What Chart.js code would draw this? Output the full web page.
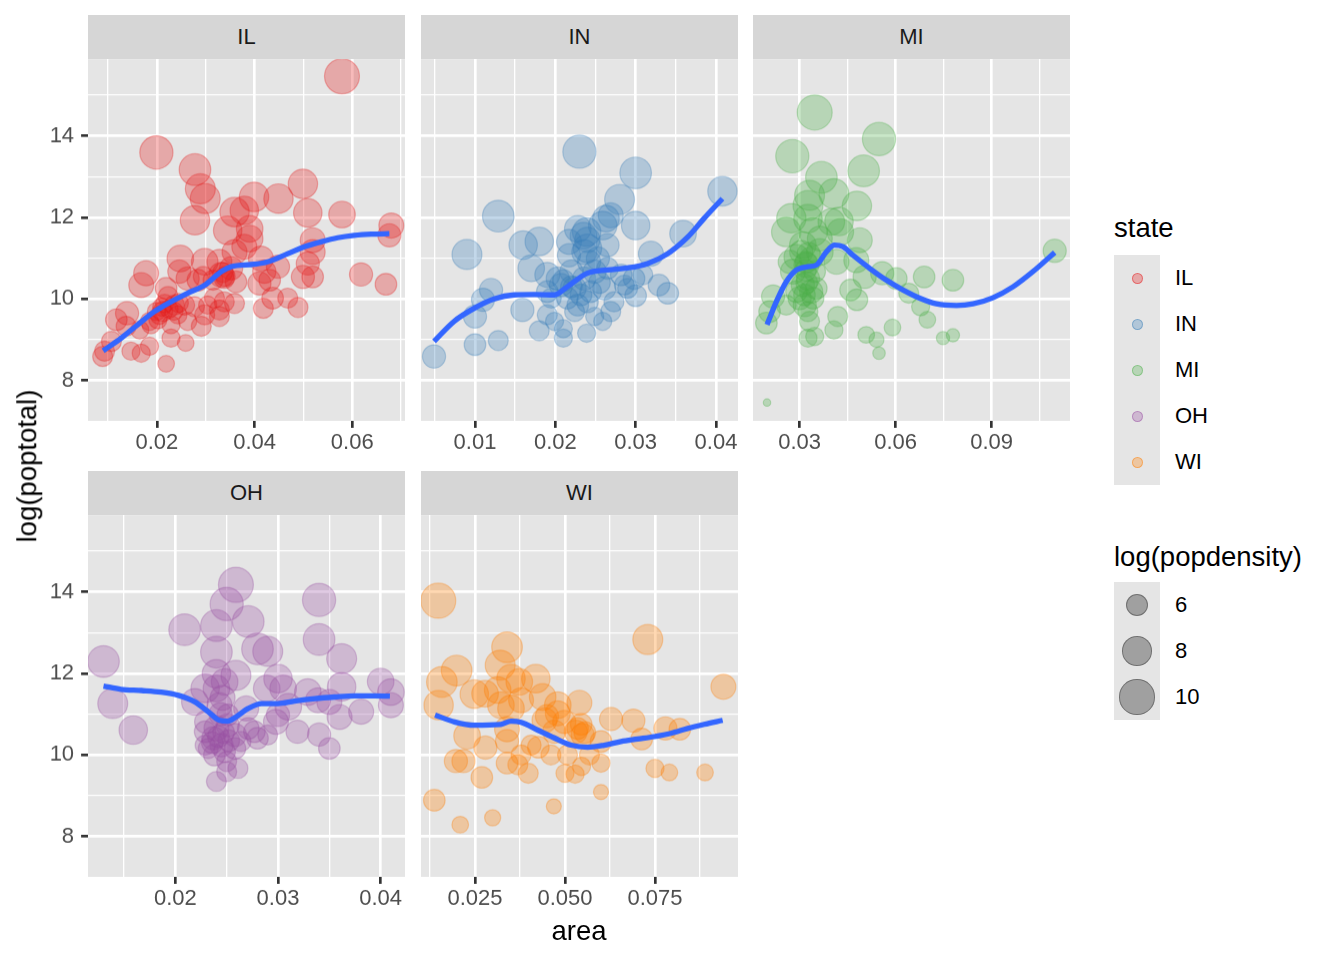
<!DOCTYPE html>
<html><head><meta charset="utf-8">
<script src="https://cdn.jsdelivr.net/npm/chart.js@4.4.1/dist/chart.umd.min.js"></script>
<style>
body{margin:0;background:#fff;width:1344px;height:960px;position:relative;overflow:hidden;font-family:"Liberation Sans",Arial,Helvetica,sans-serif;}
.strip{position:absolute;background:#D6D6D6;color:#1A1A1A;font-size:22px;display:flex;align-items:center;justify-content:center;}
canvas{position:absolute;}
.t{position:absolute;white-space:nowrap;line-height:1;}
.dot{position:absolute;border-radius:50%;box-sizing:border-box;}
</style></head><body>
<script>
// ---------- data: area, log(poptotal), log(popdensity) ----------
const IL_area=[0.0579,0.0199,0.0278,0.0289,0.0299,0.0278,0.0359,0.0379,0.0399,0.0449,0.0499,0.0509,0.0579,0.0680,0.0676,0.0345,0.0390,0.0390,0.0379,0.0359,0.0519,0.0519,0.0509,0.0499,0.0519,0.0448,0.0413,0.0420,0.0410,0.0431,0.0437,0.0418,0.0468,0.0489,0.0618,0.0669,0.0248,0.0298,0.0328,0.0332,0.0352,0.0362,0.0246,0.0263,0.0284,0.0178,0.0168,0.0219,0.0223,0.0236,0.0212,0.0202,0.0257,0.0277,0.0298,0.0291,0.0328,0.0328,0.0338,0.0359,0.0318,0.0139,0.0117,0.0137,0.0107,0.0089,0.0147,0.0168,0.0185,0.0165,0.0188,0.0229,0.0259,0.0219,0.0199,0.0216,0.0243,0.0263,0.0185,0.0229,0.0304,0.0338,0.0315,0.0093,0.0225,0.0235,0.0210,0.0245,0.0205,0.0335,0.0340,0.0295];
const IL_pop=[15.46,13.59,13.17,12.70,12.46,11.93,12.13,12.17,12.50,12.46,12.82,12.11,12.07,11.80,11.56,11.68,11.72,11.48,11.28,11.15,11.44,11.15,10.87,10.54,10.54,10.79,10.99,10.67,10.38,10.46,10.02,9.77,10.02,9.79,10.60,10.36,10.99,10.91,10.91,10.59,10.75,10.42,10.67,10.50,10.46,10.63,10.34,10.26,10.06,9.85,9.69,9.49,9.85,9.81,9.61,9.33,9.73,9.57,9.93,9.89,10.02,9.65,9.49,9.33,8.96,8.59,8.72,8.67,8.84,9.24,9.37,9.04,8.92,8.41,9.69,9.89,9.61,9.45,9.45,9.37,9.85,10.50,10.46,8.72,9.75,9.70,9.80,9.90,9.60,10.65,10.55,10.55];
const IL_dens=[10.4,9.7,9.1,8.5,8.5,8.3,8.3,8.0,8.3,8.3,8.3,8.0,7.4,6.9,6.4,8.0,7.4,7.4,6.9,6.9,6.9,6.9,6.4,6.4,6.0,6.4,6.9,6.4,6.4,6.0,6.0,5.6,5.6,5.6,6.4,6.0,7.4,7.4,6.9,6.9,6.4,6.0,6.4,6.4,6.0,6.9,6.9,6.0,5.6,5.6,5.6,5.2,5.6,5.6,5.6,5.6,5.6,5.6,5.6,5.6,5.6,6.4,6.0,5.6,5.6,5.6,5.2,5.2,5.2,5.2,5.2,5.2,4.9,4.9,5.2,5.2,5.2,5.2,5.2,5.2,5.2,5.6,5.6,5.6,5.2,5.2,5.2,5.4,5.2,5.6,5.6,5.6];

const IN_area=[0.0230,0.0300,0.0280,0.0408,0.0129,0.0090,0.0263,0.0259,0.0300,0.0239,0.0228,0.0217,0.0240,0.0359,0.0160,0.0180,0.0170,0.0190,0.0217,0.0319,0.0120,0.0110,0.0100,0.0159,0.0180,0.0100,0.0129,0.0049,0.0190,0.0199,0.0210,0.0210,0.0239,0.0259,0.0269,0.0190,0.0207,0.0215,0.0228,0.0224,0.0236,0.0249,0.0261,0.0265,0.0282,0.0286,0.0298,0.0300,0.0309,0.0329,0.0340,0.0236,0.0242,0.0253,0.0203,0.0240,0.0244,0.0224,0.0249,0.0273,0.0220,0.0265,0.0269,0.0195,0.0290,0.0220,0.0232,0.0210,0.0255,0.0235,0.0240];
const IN_pop=[13.61,13.09,12.44,12.64,12.03,11.09,11.97,11.80,11.80,11.64,11.72,11.40,11.24,11.60,11.32,11.41,10.75,10.59,11.07,11.11,10.22,9.98,9.57,9.73,9.22,8.88,8.98,8.59,9.61,9.45,9.27,9.04,9.16,9.45,9.69,10.18,10.34,10.02,9.85,10.26,10.50,10.67,10.26,10.75,10.59,10.34,10.50,10.08,10.59,10.34,10.14,11.15,10.91,10.99,10.50,9.93,10.18,9.69,9.57,9.93,10.67,11.32,12.05,10.02,10.26,10.30,10.10,10.45,10.40,11.55,11.45];
const IN_dens=[9.7,9.1,8.5,8.3,9.1,8.5,7.4,8.0,8.0,8.0,7.4,6.9,8.0,7.4,8.0,8.0,7.4,6.9,6.4,6.9,6.4,6.4,6.4,6.4,5.6,6.0,5.6,6.4,5.6,5.2,5.2,5.2,5.2,5.2,5.6,6.0,6.4,6.0,6.0,6.4,6.4,6.4,6.4,6.0,6.0,5.6,6.0,6.0,5.6,6.0,6.0,6.9,6.4,6.4,6.4,6.0,6.0,5.6,5.2,5.6,6.4,6.4,6.9,5.6,5.6,6.0,6.0,6.0,6.0,7.4,7.0];

const MI_area=[0.0347,0.0548,0.0277,0.0500,0.0368,0.0407,0.0331,0.0326,0.0479,0.0274,0.0258,0.0326,0.0423,0.0427,0.0488,0.0342,0.0310,0.0290,0.0363,0.0415,0.0477,0.0279,0.0321,0.0326,0.0336,0.0300,0.0316,0.0342,0.0503,0.0558,0.0602,0.0459,0.0479,0.0641,0.0689,0.0779,0.0678,0.0699,0.1097,0.0217,0.0206,0.0196,0.0419,0.0407,0.0331,0.0326,0.0347,0.0508,0.0540,0.0548,0.0590,0.0748,0.0779,0.0198,0.0310,0.0290,0.0269,0.0336,0.0363,0.0399,0.0258,0.0326,0.0347,0.0352,0.0305,0.0320,0.0318,0.0322,0.0315,0.0328];
const MI_pop=[14.57,13.92,13.50,13.14,12.98,12.58,12.54,12.29,12.28,11.98,11.64,11.97,11.90,11.64,11.44,11.64,11.32,11.03,11.15,10.91,10.95,10.67,10.83,10.50,10.18,10.02,9.85,10.02,10.54,10.63,10.50,10.22,9.98,10.14,10.54,10.46,9.81,9.49,11.18,10.06,9.69,9.41,9.57,9.24,9.45,9.04,9.08,9.12,9.00,8.67,9.30,9.04,9.11,7.46,10.34,10.18,10.91,10.99,11.48,11.89,9.85,9.69,10.67,10.26,11.15,10.90,10.70,10.40,10.10,11.10];
const MI_dens=[10.4,9.7,9.7,9.1,9.1,8.5,8.5,8.5,8.3,8.3,8.3,8.0,8.0,7.4,6.9,8.0,7.4,6.9,7.4,6.9,6.9,6.9,6.9,6.4,6.4,6.4,6.4,6.0,6.4,6.4,6.0,6.0,6.0,5.6,6.0,6.0,5.2,4.9,6.4,6.4,6.0,6.0,5.6,5.2,5.6,5.2,5.2,4.9,4.6,4.2,4.9,4.3,4.3,3.6,6.4,6.0,6.4,6.4,6.9,7.4,5.6,5.6,6.0,6.0,6.4,6.0,6.0,6.0,6.0,6.4];

const OH_area=[0.0259,0.0250,0.0340,0.0271,0.0209,0.0240,0.0340,0.0240,0.0280,0.0290,0.0130,0.0362,0.0259,0.0240,0.0229,0.0300,0.0289,0.0305,0.0362,0.0400,0.0410,0.0410,0.0139,0.0159,0.0219,0.0329,0.0339,0.0350,0.0360,0.0381,0.0310,0.0298,0.0319,0.0340,0.0350,0.0269,0.0240,0.0248,0.0243,0.0230,0.0240,0.0251,0.0258,0.0237,0.0245,0.0248,0.0258,0.0238,0.0250,0.0261,0.0250,0.0240,0.0271,0.0280,0.0290,0.0277,0.0229,0.0229,0.0264,0.0300,0.0251,0.0232,0.0242,0.0247,0.0236,0.0252,0.0244,0.0246];
const OH_pop=[14.17,13.70,13.80,13.27,13.07,13.17,12.83,12.52,12.60,12.54,12.29,12.36,11.95,11.99,11.63,11.87,11.63,11.63,11.67,11.80,11.54,11.22,11.26,10.61,11.30,11.54,11.34,11.30,10.93,11.06,11.18,10.81,10.57,10.50,10.16,11.14,11.63,11.79,11.22,10.81,10.65,10.73,10.49,10.41,10.24,10.08,10.16,10.00,9.84,9.67,9.59,9.35,10.65,10.41,10.49,10.57,10.57,10.24,10.33,10.98,10.98,10.16,10.45,10.55,10.30,10.35,11.00,11.40];
const OH_dens=[10.4,9.7,9.7,9.1,9.1,9.1,9.1,9.1,9.1,8.5,9.1,8.5,8.5,8.0,8.0,8.0,7.4,7.4,8.0,7.4,7.4,6.9,8.5,8.0,7.4,7.4,6.9,6.9,6.9,6.9,7.4,6.9,6.4,6.4,6.0,6.9,7.4,7.4,6.9,6.4,6.9,6.4,6.4,6.4,6.4,6.0,6.0,6.0,5.6,5.6,5.6,5.6,6.0,6.0,5.6,6.0,6.0,5.6,5.6,6.4,6.0,5.6,6.0,6.0,6.0,6.0,6.4,6.9];

const WI_area=[0.0148,0.0730,0.0339,0.0320,0.0199,0.0158,0.0149,0.0940,0.0350,0.0419,0.0373,0.0248,0.0278,0.0313,0.0322,0.0350,0.0378,0.0438,0.0480,0.0540,0.0480,0.0443,0.0498,0.0530,0.0549,0.0600,0.0628,0.0690,0.0713,0.0779,0.0819,0.0228,0.0279,0.0339,0.0339,0.0426,0.0461,0.0197,0.0218,0.0339,0.0369,0.0398,0.0500,0.0528,0.0546,0.0600,0.0750,0.0790,0.0889,0.0269,0.0600,0.0137,0.0209,0.0299,0.0469,0.0470,0.0507,0.0568,0.0378,0.0406,0.0535,0.0545,0.0555,0.0450];
const WI_pop=[13.78,12.83,12.64,12.20,12.07,11.79,11.22,11.67,11.87,11.87,11.79,11.49,11.50,11.59,11.22,11.14,11.34,11.42,11.22,11.28,11.02,10.85,10.81,10.57,10.49,10.33,10.88,10.84,10.39,10.65,10.63,10.47,10.18,10.63,10.34,10.19,10.00,9.85,9.85,9.80,9.76,9.55,9.55,9.53,9.72,9.80,9.67,9.57,9.57,9.45,9.09,8.89,8.29,8.46,8.74,10.57,10.00,10.00,10.00,10.24,10.65,10.75,10.55,10.95];
const WI_dens=[10.4,8.5,8.75,8.5,8.75,8.75,8.3,6.9,8.0,8.0,7.4,8.0,7.4,7.4,7.4,7.4,6.9,7.4,7.4,6.9,6.9,6.9,6.4,6.4,6.4,6.0,6.4,6.4,6.0,6.4,6.0,7.4,6.4,6.9,6.4,6.0,5.6,6.4,6.4,6.0,5.6,5.6,5.2,5.2,5.2,5.2,5.2,4.9,4.9,6.0,4.6,6.0,4.9,4.8,4.6,6.4,5.6,5.6,5.6,5.6,6.0,6.0,6.0,6.4];

// ---------- loess fit lines ----------
const IL_fitX=[0.0090,0.0127,0.0161,0.0195,0.0229,0.0263,0.0298,0.0332,0.0352,0.0400,0.0427,0.0468,0.0502,0.0536,0.0570,0.0604,0.0639,0.0676];
const IL_fitY=[8.73,9.04,9.37,9.69,9.93,10.14,10.34,10.67,10.79,10.85,10.91,11.11,11.28,11.40,11.50,11.56,11.59,11.60];
const IN_fitX=[0.0049,0.0074,0.0099,0.0124,0.0149,0.0174,0.0199,0.0215,0.0240,0.0265,0.0290,0.0315,0.0340,0.0365,0.0385,0.0408];
const IN_fitY=[8.96,9.45,9.77,10.00,10.10,10.11,10.10,10.30,10.63,10.71,10.76,10.87,11.11,11.52,11.97,12.46];
const MI_fitX=[0.0198,0.0227,0.0258,0.0290,0.0326,0.0352,0.0383,0.0409,0.0435,0.0467,0.0519,0.0571,0.0623,0.0675,0.0727,0.0790,0.0842,0.0904,0.0967,0.1029,0.1097];
const MI_fitY=[9.37,9.93,10.42,10.71,10.79,10.83,11.15,11.32,11.28,11.07,10.75,10.46,10.22,10.02,9.88,9.84,9.88,10.03,10.30,10.67,11.14];
const OH_fitX=[0.0130,0.0147,0.0167,0.0186,0.0203,0.0219,0.0232,0.0243,0.0251,0.0259,0.0271,0.0284,0.0300,0.0316,0.0336,0.0355,0.0375,0.0394,0.0409];
const OH_fitY=[11.69,11.61,11.58,11.54,11.46,11.30,11.06,10.85,10.83,10.93,11.14,11.26,11.26,11.32,11.38,11.42,11.45,11.45,11.44];
const WI_fitX=[0.0139,0.0193,0.0248,0.0322,0.0350,0.0378,0.0424,0.0470,0.0517,0.0563,0.0609,0.0656,0.0702,0.0748,0.0794,0.0841,0.0887,0.0938];
const WI_fitY=[10.98,10.81,10.73,10.75,10.83,10.80,10.61,10.42,10.24,10.19,10.24,10.33,10.39,10.45,10.53,10.65,10.75,10.85];

// ---------- axis breaks ----------
const states=['IL','IN','MI','OH','WI'];
const yMajor=[8,10,12,14], yMinor=[9,11,13,15], yLabels=['8','10','12','14'];
const IL_xMajor=[0.02,0.04,0.06], IL_xMinor=[0.01,0.03,0.05,0.07], IL_xLabels=['0.02','0.04','0.06'];
const IN_xMajor=[0.01,0.02,0.03,0.04], IN_xMinor=[0.005,0.015,0.025,0.035], IN_xLabels=['0.01','0.02','0.03','0.04'];
const MI_xMajor=[0.03,0.06,0.09], MI_xMinor=[0.045,0.075,0.105], MI_xLabels=['0.03','0.06','0.09'];
const OH_xMajor=[0.02,0.03,0.04], OH_xMinor=[0.015,0.025,0.035], OH_xLabels=['0.02','0.03','0.04'];
const WI_xMajor=[0.025,0.05,0.075], WI_xMinor=[0.0125,0.0375,0.0625,0.0875], WI_xLabels=['0.025','0.050','0.075'];
const sizeBreaks=[6,8,10];
</script>
<script>
const FONT='"Liberation Sans", Arial, Helvetica, sans-serif';
const COLORS={IL:[228,26,28],IN:[55,126,184],MI:[77,175,74],OH:[152,78,163],WI:[255,127,0]};
const PANEL_BG='#E5E5E5';
const radiusOf=v=>Math.sqrt(Math.max(9,43*v-141));
const GRID_MAJ=2.67, GRID_MIN=1.33, TICK_LEN=6.9;

const panels=[
 {s:'IL',area:IL_area,pop:IL_pop,dens:IL_dens,fx:IL_fitX,fy:IL_fitY,xr:[0.0059,0.0708],xM:IL_xMajor,xm:IL_xMinor,xl:IL_xLabels,col:0,row:0},
 {s:'IN',area:IN_area,pop:IN_pop,dens:IN_dens,fx:IN_fitX,fy:IN_fitY,xr:[0.00328,0.04274],xM:IN_xMajor,xm:IN_xMinor,xl:IN_xLabels,col:1,row:0},
 {s:'MI',area:MI_area,pop:MI_pop,dens:MI_dens,fx:MI_fitX,fy:MI_fitY,xr:[0.01542,0.11448],xM:MI_xMajor,xm:MI_xMinor,xl:MI_xLabels,col:2,row:0},
 {s:'OH',area:OH_area,pop:OH_pop,dens:OH_dens,fx:OH_fitX,fy:OH_fitY,xr:[0.01149,0.04237],xM:OH_xMajor,xm:OH_xMinor,xl:OH_xLabels,col:0,row:1},
 {s:'WI',area:WI_area,pop:WI_pop,dens:WI_dens,fx:WI_fitX,fy:WI_fitY,xr:[0.0100,0.09806],xM:WI_xMajor,xm:WI_xMinor,xl:WI_xLabels,col:1,row:1}
];
const colLeft=[88,421,753], rowTop=[59.3,515], PW=317, PH=361.5, STRIP=44;
const YR=[7.01,15.88];

const bgPlugin={id:'panelbg',beforeDraw(chart){const a=chart.chartArea,c=chart.ctx;c.save();c.fillStyle=PANEL_BG;c.fillRect(a.left,a.top,a.right-a.left,a.bottom-a.top);c.restore();}};

function mkTicks(major,minor){
  const t=major.map(v=>({value:v,mj:true})).concat(minor.map(v=>({value:v,mj:false})));
  t.sort((a,b)=>a.value-b.value);return t;
}
function isMj(c){return c&&c.tick&&c.tick.mj;}

function addDiv(cls,txt,css){const d=document.createElement('div');d.className=cls;if(txt!==null)d.textContent=txt;Object.assign(d.style,css);document.body.appendChild(d);return d;}

panels.forEach(p=>{
  const showY=p.col===0;
  const yW=showY?58:0, padL=40, padR=40, padT=30, axisH=56;
  const left=colLeft[p.col], top=rowTop[p.row];
  addDiv('strip',p.s,{left:left+'px',top:(top-STRIP)+'px',width:PW+'px',height:STRIP+'px'});
  const cv=document.createElement('canvas');
  const W=padL+yW+PW+padR, H=padT+PH+axisH;
  cv.width=W;cv.height=H;cv.style.width=W+'px';cv.style.height=H+'px';
  cv.style.left=(left-yW-padL)+'px';cv.style.top=(top-padT)+'px';
  document.body.appendChild(cv);
  const col=COLORS[p.s];
  const rgba=a=>`rgba(${col[0]},${col[1]},${col[2]},${a})`;
  const n=Math.min(p.area.length,p.pop.length,p.dens.length);
  const pts=[],rad=[];
  for(let i=0;i<n;i++){pts.push({x:p.area[i],y:p.pop[i]});rad.push(radiusOf(p.dens[i]));}
  const fit=p.fx.map((x,i)=>({x:x,y:p.fy[i]}));
  new Chart(cv,{
    type:'scatter',
    data:{datasets:[
      {type:'line',data:fit,borderColor:'#3366FF',borderWidth:5.3,pointRadius:0,fill:false,cubicInterpolationMode:'monotone',clip:0,borderCapStyle:'butt'},
      {data:pts,pointRadius:rad,backgroundColor:rgba(0.3),borderColor:rgba(0.3),borderWidth:1.2,clip:0}
    ]},
    options:{
      responsive:false,animation:false,events:[],devicePixelRatio:1,
      layout:{padding:{left:padL,right:padR,top:padT,bottom:0},autoPadding:false},
      plugins:{legend:{display:false},tooltip:{enabled:false}},
      scales:{
        x:{type:'linear',min:p.xr[0],max:p.xr[1],
          afterBuildTicks:s=>{s.ticks=mkTicks(p.xM,p.xm);},
          afterFit:s=>{s.height=axisH;},
          border:{display:false},
          grid:{color:'#FFFFFF',lineWidth:c=>isMj(c)?GRID_MAJ:GRID_MIN,drawTicks:true,tickLength:TICK_LEN,tickWidth:GRID_MAJ,tickColor:c=>isMj(c)?'#333333':'rgba(0,0,0,0)'},
          ticks:{autoSkip:false,maxRotation:0,minRotation:0,padding:2,color:'#4D4D4D',font:{family:FONT,size:22},
            callback:(v,i,t)=>{const k=p.xM.indexOf(t[i].value);return (t[i].mj&&k>=0)?p.xl[k]:'';}}
        },
        y:{type:'linear',min:YR[0],max:YR[1],
          afterBuildTicks:s=>{s.ticks=mkTicks(yMajor,yMinor);},
          afterFit:s=>{s.width=yW;},
          border:{display:false},
          grid:{color:'#FFFFFF',lineWidth:c=>isMj(c)?GRID_MAJ:GRID_MIN,drawTicks:showY,tickLength:TICK_LEN,tickWidth:GRID_MAJ,tickColor:c=>isMj(c)?'#333333':'rgba(0,0,0,0)'},
          ticks:{display:showY,autoSkip:false,padding:7,color:'#4D4D4D',font:{family:FONT,size:22},
            callback:(v,i,t)=>{const k=yMajor.indexOf(t[i].value);return (t[i].mj&&k>=0)?yLabels[k]:'';}}
        }
      }
    },
    plugins:[bgPlugin]
  });
});

// axis titles
addDiv('t','area',{left:'579px',top:'931px',fontSize:'27.5px',color:'#000',transform:'translate(-50%,-50%)'});
addDiv('t','log(poptotal)',{left:'27px',top:'466px',fontSize:'27.5px',color:'#000',transform:'translate(-50%,-50%) rotate(-90deg)'});

// legend: state
addDiv('t','state',{left:'1114px',top:'228px',fontSize:'27.5px',color:'#000',transform:'translateY(-50%)'});
addDiv('dot',null,{left:'1114px',top:'255px',width:'46px',height:'230px',background:PANEL_BG,borderRadius:'0'});
states.forEach((s,i)=>{
  const c=COLORS[s], cy=278+46*i, r=5.5;
  addDiv('dot',null,{left:(1137-r)+'px',top:(cy-r)+'px',width:(2*r)+'px',height:(2*r)+'px',background:`rgba(${c[0]},${c[1]},${c[2]},0.3)`,border:`1.2px solid rgba(${c[0]},${c[1]},${c[2]},0.45)`});
  addDiv('t',s,{left:'1175px',top:cy+'px',fontSize:'22px',color:'#000',transform:'translateY(-50%)'});
});
// legend: size
addDiv('t','log(popdensity)',{left:'1114px',top:'557px',fontSize:'27.5px',color:'#000',transform:'translateY(-50%)'});
addDiv('dot',null,{left:'1114px',top:'582px',width:'46px',height:'138px',background:PANEL_BG,borderRadius:'0'});
sizeBreaks.forEach((v,i)=>{
  const cy=605+46*i, r=radiusOf(v)+0.6;
  addDiv('dot',null,{left:(1137-r)+'px',top:(cy-r)+'px',width:(2*r)+'px',height:(2*r)+'px',background:'rgba(0,0,0,0.3)',border:'1.2px solid rgba(0,0,0,0.3)'});
  addDiv('t',String(v),{left:'1175px',top:cy+'px',fontSize:'22px',color:'#000',transform:'translateY(-50%)'});
});
</script>
</body></html>
